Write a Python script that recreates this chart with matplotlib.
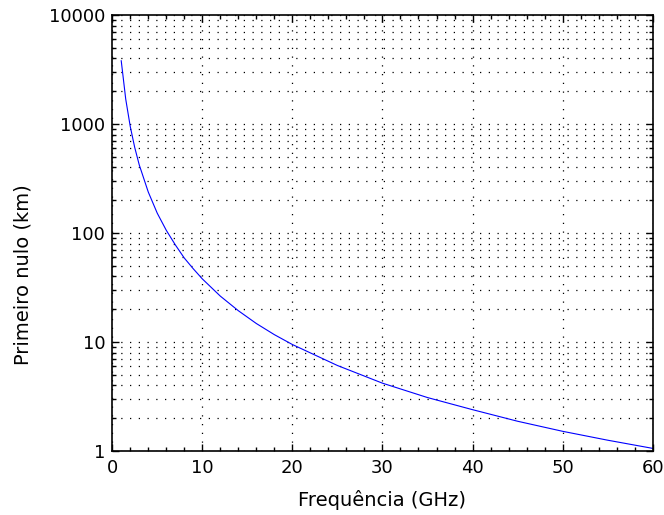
import numpy as np
import matplotlib
matplotlib.use("Agg")
import matplotlib.pyplot as plt
from matplotlib.ticker import FixedLocator, LogLocator, NullFormatter

# frequency (GHz) and first null distance (km)
freq = [1, 1.5, 2, 2.5, 3, 4, 5, 6, 7, 8, 9, 10, 12, 14, 16, 18, 20,
        25, 30, 35, 40, 45, 50, 55, 60]
null_km = [3800, 1690, 950, 608, 422, 238, 152, 106, 78, 59, 47, 38,
           26.4, 19.4, 14.8, 11.7, 9.5, 6.1, 4.2, 3.1, 2.4, 1.88, 1.52,
           1.26, 1.06]

x_ticks = [0, 10, 20, 30, 40, 50, 60]
y_ticks = [1, 10, 100, 1000, 10000]
y_labels = ["1", "10", "100", "1000", "10000"]

plt.rcParams['font.family'] = ['DejaVu Sans']

fig = plt.figure(figsize=(6.64, 5.15), dpi=100)
ax = fig.add_axes([0.169, 0.124, 0.814, 0.847])

ax.plot(freq, null_km, color='#0000ff', linewidth=0.8)
ax.set_yscale('log')
ax.set_xlim(0, 60)
ax.set_ylim(1, 10000)

ax.set_xticks(x_ticks)
ax.set_xticklabels([str(t) for t in x_ticks])
ax.xaxis.set_minor_locator(FixedLocator(np.arange(0, 61, 2)))
ax.set_yticks(y_ticks)
ax.set_yticklabels(y_labels)
ax.yaxis.set_minor_locator(LogLocator(base=10, subs=np.arange(2, 10)))
ax.yaxis.set_minor_formatter(NullFormatter())

ax.tick_params(which='both', direction='in', top=True, right=True,
               labelsize=13, colors='black')
ax.tick_params(axis='x', pad=6)
ax.tick_params(axis='y', pad=5)
ax.tick_params(which='major', length=5, width=1)
ax.tick_params(which='minor', length=3, width=1)

ax.grid(True, which='major', linestyle=(0, (1, 6)), color='black', linewidth=0.9)
ax.grid(True, which='minor', axis='y', linestyle=(0, (1, 6)), color='black', linewidth=0.9)

for s in ax.spines.values():
    s.set_linewidth(1.2)

ax.set_xlabel("Frequência (GHz)", fontsize=14, labelpad=9)
ax.set_ylabel("Primeiro nulo (km)", fontsize=14)
ax.yaxis.set_label_coords(-0.147, 0.404)

fig.savefig("out.png", dpi=100)
